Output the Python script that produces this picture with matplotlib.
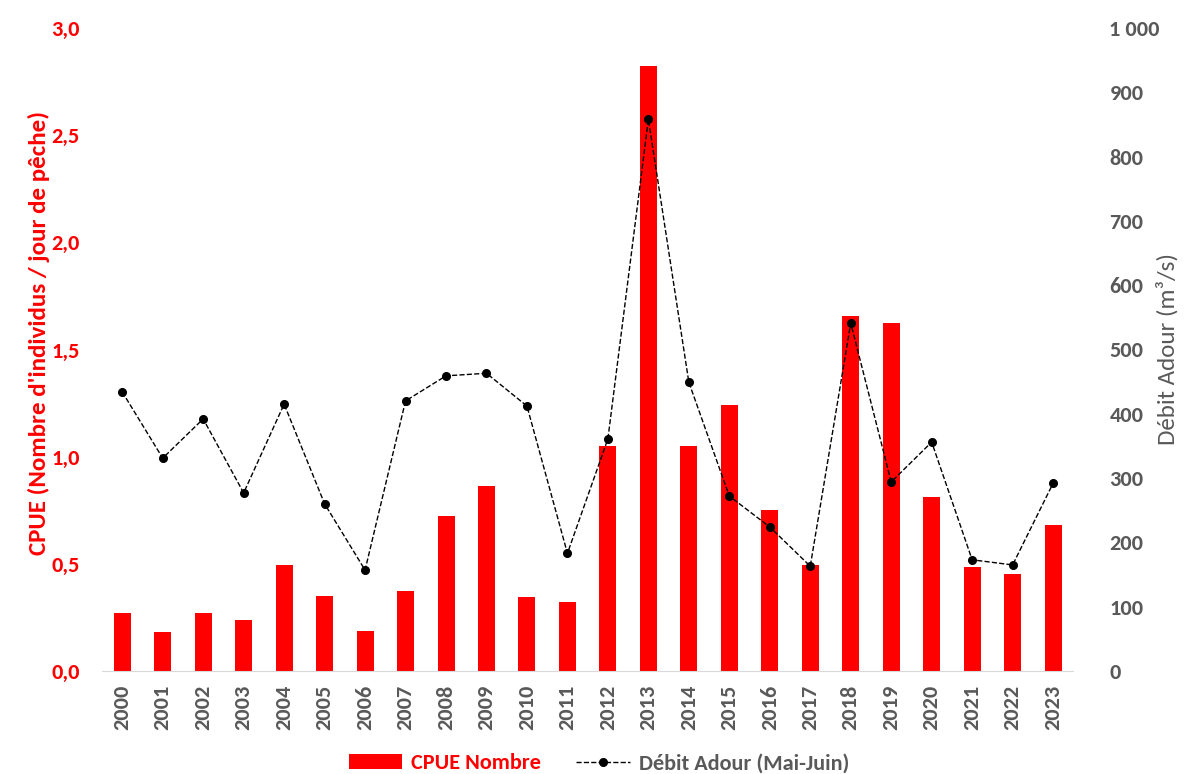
import matplotlib.pyplot as plt
from matplotlib.ticker import FuncFormatter

plt.rcParams['font.family'] = ['Carlito', 'Open Sans', 'DejaVu Sans']

years = [str(y) for y in range(2000, 2024)]
cpue = [0.27, 0.18, 0.27, 0.24, 0.495, 0.35, 0.187, 0.373, 0.723, 0.863, 0.345, 0.322,
        1.05, 2.823, 1.05, 1.241, 0.751, 0.495, 1.657, 1.624, 0.812, 0.485, 0.453, 0.681]
debit = [434, 331, 392, 277, 415, 260, 157, 420, 459, 463, 412, 183,
         361, 858, 449, 272, 224, 163, 541, 294, 356, 173, 165, 292]

RED = '#ff0000'
GREY = '#595959'

fig = plt.figure(figsize=(11.86, 7.74), dpi=100)
ax = fig.add_axes([0.086, 0.133, 0.819, 0.831])
ax2 = ax.twinx()

x = range(len(years))
bars = ax.bar(x, cpue, width=0.42, color=RED, label='CPUE Nombre', zorder=2)
line, = ax2.plot(x, debit, color='black', linestyle='--', linewidth=1,
                 marker='o', markersize=5.5, label='Débit Adour (Mai-Juin)', zorder=3)

ax.set_xlim(-0.5, len(years) - 0.5)
ax.set_ylim(0, 3.0)
ax2.set_ylim(0, 1000)
ax.set_yticks([0, 0.5, 1.0, 1.5, 2.0, 2.5, 3.0])
ax2.set_yticks(range(0, 1001, 100))
ax.yaxis.set_major_formatter(FuncFormatter(lambda v, p: f"{v:.1f}".replace('.', ',')))
ax2.yaxis.set_major_formatter(FuncFormatter(lambda v, p: f"{int(v):,}".replace(',', ' ')))

ax.set_xticks(list(x))
ax.set_xticklabels(years, rotation=90)

for a in (ax, ax2):
    for s in ('top', 'left', 'right'):
        a.spines[s].set_visible(False)
    a.spines['bottom'].set_color('#d9d9d9')
    a.tick_params(length=0)
ax2.spines['bottom'].set_visible(False)

ax.tick_params(axis='x', pad=10, labelsize=16, labelcolor=GREY)
ax.tick_params(axis='y', pad=16, labelsize=16, labelcolor=RED)
ax2.tick_params(axis='y', pad=26, labelsize=16, labelcolor=GREY)
for lbl in ax.get_xticklabels() + ax.get_yticklabels() + ax2.get_yticklabels():
    lbl.set_fontweight('bold')

ax.set_ylabel("CPUE (Nombre d'individus / jour de pêche)", fontsize=18,
              fontweight='bold', color=RED, labelpad=1)
ax.yaxis.label.set_y(0.525)
ax2.set_ylabel("Débit Adour (m³/s)", fontsize=18, color=GREY, labelpad=-3)

leg = fig.legend([bars, line], ['CPUE Nombre', 'Débit Adour (Mai-Juin)'],
                 loc='lower center', bbox_to_anchor=(0.505, -0.025), ncol=2,
                 frameon=False, prop={'size': 16, 'weight': 'bold'},
                 handlelength=2.4, columnspacing=1.6, handletextpad=0.4)
leg.get_texts()[0].set_color(RED)
leg.get_texts()[1].set_color(GREY)

fig.savefig('out.png', dpi=100)
